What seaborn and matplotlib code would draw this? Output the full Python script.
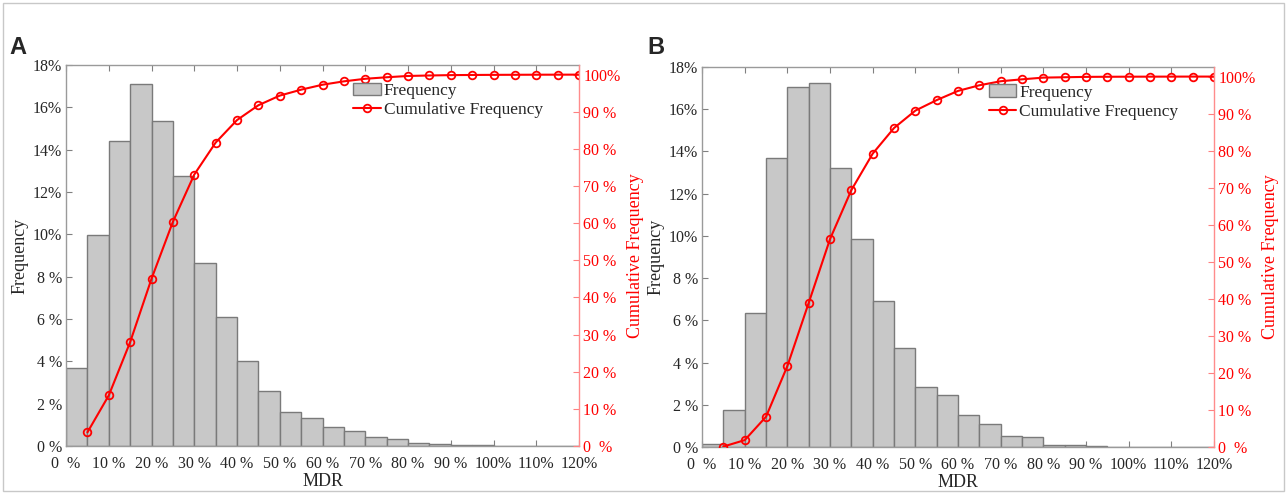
import numpy as np
import pandas as pd
import seaborn as sns
from matplotlib import pyplot as plt
from matplotlib.patches import Rectangle

# bin edges of MDR (%), 5 % wide
edges = list(range(0, 125, 5))

# frequency (%) per bin
freq_a = [3.68, 9.98, 14.39, 17.1, 15.37, 12.75, 8.63, 6.08, 4.0, 2.6, 1.6, 1.34,
          0.91, 0.69, 0.41, 0.35, 0.13, 0.1, 0.04, 0.03, 0.02, 0.02, 0.01, 0.01]
freq_b = [0.12, 1.74, 6.33, 13.7, 17.06, 17.25, 13.23, 9.84, 6.92, 4.7, 2.84, 2.48,
          1.52, 1.09, 0.52, 0.46, 0.1, 0.1, 0.03, 0.02, 0.01, 0.01, 0.01, 0.0]

x_ticks = list(range(0, 130, 10))
x_labels = ["0  %", "10 %", "20 %", "30 %", "40 %", "50 %", "60 %", "70 %",
            "80 %", "90 %", "100%", "110%", "120%"]
left_ticks = list(range(0, 20, 2))
left_labels = ["0 %", "2 %", "4 %", "6 %", "8 %", "10%", "12%", "14%", "16%", "18%"]
right_ticks = list(range(0, 110, 10))
right_labels = ["0  %", "10 %", "20 %", "30 %", "40 %", "50 %", "60 %", "70 %",
                "80 %", "90 %", "100%"]

sns.set_style("ticks")
plt.rcParams["font.family"] = ["Liberation Serif", "DejaVu Serif"]

RED = "#ff0000"


def draw_panel(fig, rect, freq, letter, letter_x):
    ax = fig.add_axes(rect)
    df = pd.DataFrame({"left": edges[:-1], "freq": freq})
    df["mid"] = df["left"] + 2.5
    cum = np.cumsum(df["freq"].values)
    cum = cum / cum[-1] * 100
    line_df = pd.DataFrame({"x": edges[1:], "cum": cum})

    sns.histplot(data=df, x="mid", weights="freq", bins=edges, ax=ax,
                 color="#c8c8c8", edgecolor="#7a7a7a", linewidth=1.0, alpha=1,
                 label="Frequency")
    ax.set_xlim(0, 120)
    ax.set_ylim(0, 18)
    ax.set_xticks(x_ticks)
    ax.set_xticklabels(x_labels)
    ax.set_yticks(left_ticks)
    ax.set_yticklabels(left_labels)
    ax.tick_params(axis="x", direction="in", top=True, length=4, pad=7,
                   labelsize=11.5, color="#808080")
    ax.tick_params(axis="y", direction="in", length=4, pad=3, labelsize=11.5,
                   color="#808080")
    ax.set_xlabel("MDR", fontsize=13)
    ax.set_ylabel("Frequency", fontsize=13)
    ax.xaxis.set_label_coords(0.5, -0.072)
    ax.yaxis.set_label_coords(-0.074, 0.5)
    for s in ["left", "top", "bottom"]:
        ax.spines[s].set_color("#9a9a9a")
        ax.spines[s].set_linewidth(1.0)
    ax.spines["right"].set_visible(False)

    ax2 = ax.twinx()
    sns.lineplot(data=line_df, x="x", y="cum", ax=ax2, color=RED, linewidth=1.5,
                 marker="o", markersize=5.5, markerfacecolor="none",
                 markeredgecolor=RED, markeredgewidth=1.3,
                 label="Cumulative Frequency")
    ax2.set_ylim(0, 102.6)
    ax2.set_xlim(0, 120)
    ax2.set_yticks(right_ticks)
    ax2.set_yticklabels(right_labels)
    ax2.tick_params(axis="y", direction="in", length=4, pad=3, labelsize=11.5,
                    colors=RED)
    ax2.tick_params(axis="y", color="#ff8080")
    ax2.set_ylabel("Cumulative Frequency", fontsize=13, color=RED)
    ax2.yaxis.set_label_coords(1.094, 0.5)
    for s in ["left", "top", "bottom"]:
        ax2.spines[s].set_visible(False)
    ax2.spines["right"].set_color("#ff8c8c")
    ax2.spines["right"].set_linewidth(1.0)

    h1, l1 = ax.get_legend_handles_labels()
    h2, l2 = ax2.get_legend_handles_labels()
    if ax2.get_legend() is not None:
        ax2.get_legend().remove()
    ax2.legend(h1 + h2, l1 + l2, loc="upper left", bbox_to_anchor=(0.553, 0.963),
               frameon=False, fontsize=12.5, handlelength=1.6, handletextpad=0.15,
               labelspacing=0.2, borderaxespad=0, borderpad=0.2)

    fig.text(letter_x, 0.903, letter, fontsize=17, fontweight="bold",
             family="Liberation Sans", va="center", ha="left")
    return ax


fig = plt.figure(figsize=(12.87, 4.93), dpi=100)
draw_panel(fig, [0.0513, 0.0953, 0.3986, 0.7729], freq_a, "A", 0.007)
draw_panel(fig, [0.5455, 0.0933, 0.3978, 0.7709], freq_b, "B", 0.503)

fig.patches.append(Rectangle((0.002, 0.004), 0.996, 0.99, transform=fig.transFigure,
                             fill=False, edgecolor="#c8c8c8", linewidth=1.0))

plt.savefig("out.png", dpi=100)
